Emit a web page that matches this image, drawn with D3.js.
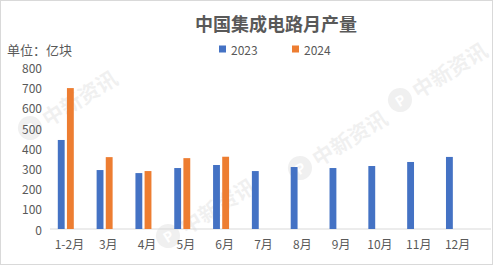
<!DOCTYPE html>
<html lang='zh'>
<head>
  <meta charset='UTF-8'>
  <title>中国集成电路月产量</title>
  <style type='text/css'>
    body {
      margin: 0;
      background: #fff;
      font-family: 'Noto Sans CJK SC', sans-serif;
    }
    text {
      fill: #595959;
    }
    .watermark text {
      fill: #000;
    }
  </style>
  <script type='text/javascript' src='https://d3js.org/d3.v7.min.js'></script>
</head>
<body>
  <script type='text/javascript'>
    const months = ['1-2月', '3月', '4月', '5月', '6月', '7月', '8月', '9月', '10月', '11月', '12月']
    const series = ['2023', '2024']
    const values2023 = [441, 292, 277, 302, 317, 287, 307, 302, 312, 332, 357]
    const values2024 = [698, 356, 287, 351, 358]
    const yTicks = [0, 100, 200, 300, 400, 500, 600, 700, 800]
    const colors = ['#4472C4', '#ED7D31']

    const width = 494
    const height = 266

    const svg = d3.select('body').append('svg')
      .attr('width', width)
      .attr('height', height)

    // outer frame
    svg.append('rect')
      .attr('x', 0.5)
      .attr('y', 0.5)
      .attr('width', 492)
      .attr('height', 264)
      .attr('fill', '#fff')
      .attr('stroke', '#d9d9d9')

    // faint logo watermarks (only the ones lying fully inside)
    const marks = [[30, 128], [168, 236], [300, 168], [400, 100]]
    const wm = svg.append('g').attr('class', 'watermark')
    marks.forEach(([mx, my]) => {
      const g = wm.append('g')
        .attr('transform', `translate(${mx},${my}) rotate(-32)`)
        .attr('opacity', 0.055)
      g.append('circle').attr('cx', 0).attr('cy', 0).attr('r', 12).attr('fill', '#000')
      g.append('text')
        .attr('x', 0).attr('y', 0)
        .attr('text-anchor', 'middle')
        .attr('dominant-baseline', 'central')
        .style('font-size', '14px').style('font-weight', 700)
        .style('fill', '#fff')
        .text('P')
      g.append('text')
        .attr('x', 16).attr('y', 0)
        .attr('dominant-baseline', 'central')
        .style('font-size', '21px').style('font-weight', 700)
        .text('中新资讯')
    })

    const x = d3.scaleBand().domain(months).range([50, 477])
    const xSub = d3.scaleBand().domain(series).range([7.8, 23.8]).paddingInner(0.25)
    const y = d3.scaleLinear().domain([0, 800]).range([229, 67.5])

    // baseline
    svg.append('line')
      .attr('x1', x.range()[0])
      .attr('x2', 491)
      .attr('y1', y(0))
      .attr('y2', y(0))
      .attr('stroke', '#d9d9d9')
      .attr('stroke-width', 1)

    // y tick labels
    svg.append('g').selectAll('text')
      .data(yTicks)
      .join('text')
      .attr('x', 42)
      .attr('y', d => y(d))
      .attr('text-anchor', 'end')
      .attr('dominant-baseline', 'central')
      .style('font-size', '12px')
      .text(d => d)

    // x labels
    svg.append('g').selectAll('text')
      .data(months)
      .join('text')
      .attr('x', d => x(d) + x.bandwidth() / 2)
      .attr('y', 243)
      .attr('text-anchor', 'middle')
      .attr('dominant-baseline', 'central')
      .style('font-size', '12px')
      .text(d => d)

    const data = [values2023, values2024]
    data.forEach((vals, si) => {
      svg.append('g').selectAll('rect')
        .data(vals)
        .join('rect')
        .attr('x', (d, i) => x(months[i]) + xSub(series[si]))
        .attr('width', xSub.bandwidth())
        .attr('y', d => y(d))
        .attr('height', d => y(0) - y(d))
        .attr('fill', colors[si])
    })

    // title
    svg.append('text')
      .attr('x', 276)
      .attr('y', 23)
      .attr('text-anchor', 'middle')
      .attr('dominant-baseline', 'central')
      .style('font-size', '18px')
      .style('font-weight', 700)
      .text('中国集成电路月产量')

    // unit
    svg.append('text')
      .attr('x', 7)
      .attr('y', 49)
      .attr('dominant-baseline', 'central')
      .style('font-size', '13px')
      .text('单位：亿块')

    // legend
    const legend = svg.selectAll('.legend')
      .data(series)
      .join('g')
      .attr('class', 'legend')
      .attr('transform', (d, i) => `translate(${219 + i * 73},49)`)

    legend.append('rect')
      .attr('x', 0)
      .attr('y', -3.5)
      .attr('width', 7)
      .attr('height', 7)
      .attr('fill', (d, i) => colors[i])

    legend.append('text')
      .attr('x', 12)
      .attr('y', 0)
      .attr('dominant-baseline', 'central')
      .style('font-size', '12px')
      .text(d => d)
  </script>
</body>
</html>
